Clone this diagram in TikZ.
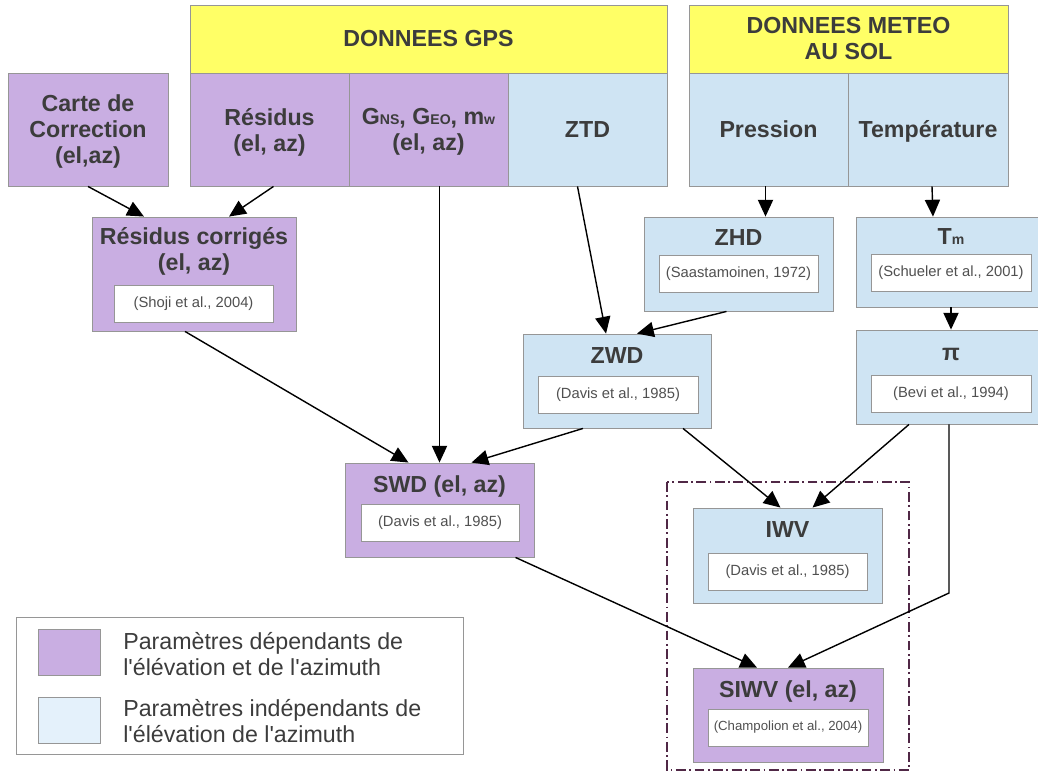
\documentclass[tikz,border=0pt]{standalone}
\usepackage{fontspec}
\setmainfont{Liberation Sans}
\definecolor{siwvPurple}{RGB}{201,174,226}
\definecolor{siwvBlue}{RGB}{207,228,243}
\definecolor{siwvPale}{RGB}{228,241,251}
\definecolor{siwvYellow}{RGB}{255,255,102}
\definecolor{siwvEdge}{RGB}{150,150,150}
\definecolor{siwvText}{RGB}{60,60,60}
\definecolor{siwvPlum}{RGB}{80,40,70}
\usetikzlibrary{arrows.meta,calc}
\newcommand{\lowidx}[1]{{\fontsize{10}{10}\selectfont #1}}

\begin{document}
\begin{tikzpicture}[x=0.025cm, y=-0.025cm,
  box/.style={draw=siwvEdge, line width=0.6pt, inner sep=0pt, align=center,
              text=siwvText, font=\fontsize{16.5}{18.5}\selectfont\bfseries},
  dep/.style={box, fill=siwvPurple},
  indep/.style={box, fill=siwvBlue},
  head/.style={box, fill=siwvYellow, minimum height=1.7cm},
  ttl/.style={text=siwvText, inner sep=0pt, align=center,
              font=\fontsize{16.5}{18.5}\selectfont\bfseries},
  ref/.style={draw=siwvEdge, line width=0.6pt, fill=white, inner sep=0pt,
              minimum width=3.975cm, minimum height=0.925cm,
              text=siwvText!90, font=\fontsize{10.5}{12}\selectfont},
  arr/.style={-{Triangle[length=4.2mm,width=3.8mm]}, line width=1pt},
  swatch/.style={draw=siwvEdge, line width=0.6pt, minimum width=1.55cm,
                 minimum height=1.15cm, inner sep=0pt},
  legtext/.style={anchor=west, align=left, inner sep=0pt, text=siwvText,
                  font=\fontsize{16.5}{18.5}\selectfont}
]
  \useasboundingbox (0,0) rectangle (1038,778);
  \clip (0,0) rectangle (1038,778);

  % data sources
  \node[head, minimum width=11.925cm] (gps)   at (428.5,39) {DONNEES GPS};
  \node[head, minimum width=7.975cm]  (meteo) at (848.5,39) {DONNEES METEO\\AU SOL};
  \node[dep, minimum width=4cm, minimum height=2.825cm, text depth=0pt]     (carte) at (88,129.5)    {Carte de\\Correction\\(el,az)};
  \node[dep, minimum width=3.975cm, minimum height=2.825cm, text depth=0pt] (res)   at (269.5,129.5) {Résidus\\(el, az)};
  \node[dep, minimum width=3.975cm, minimum height=2.825cm, text depth=0pt] (grad)  at (428.5,129.5) {G\lowidx{NS}, G\lowidx{EO}, m\lowidx{w}\\(el, az)};
  \node[indep, minimum width=3.975cm, minimum height=2.825cm, text height=12pt, text depth=0pt] (ztd)  at (587.5,129.5) {ZTD};
  \node[indep, minimum width=3.975cm, minimum height=2.825cm, text height=12pt, text depth=0pt] (pres) at (768.5,129.5) {Pression};
  \node[indep, minimum width=4cm, minimum height=2.825cm, text height=12pt, text depth=0pt]     (temp) at (928,129.5)   {Température};

  % derived quantities
  \node[dep, minimum width=5.1cm, minimum height=2.85cm] (rc) at (194,274) {};
  \node[ttl] (rct) at (194,251) {Résidus corrigés\\(el, az)};
  \node[ref] (rcref) at (193.5,303.5) {(Shoji et al., 2004)};

  \node[indep, minimum width=4.725cm, minimum height=2.35cm] (zhd) at (738.5,264) {};
  \node[ttl, anchor=base] (zhdt) at (738.5,245) {ZHD};
  \node[ref] (zhdref) at (738.5,273.5) {(Saastamoinen, 1972)};

  \node[indep, minimum width=4.75cm, minimum height=2.25cm] (tm) at (951,262) {};
  \node[ttl, anchor=base] (tmt) at (951,244) {T\lowidx{m}};
  \node[ref, minimum width=4cm] (tmref) at (951,273) {(Schueler et al., 2001)};

  \node[indep, minimum width=4.7cm, minimum height=2.35cm] (zwd) at (617,381) {};
  \node[ttl, anchor=base] (zwdt) at (617,363) {ZWD};
  \node[ref, minimum width=4cm] (zwdref) at (618,394.5) {(Davis et al., 1985)};

  \node[indep, minimum width=4.75cm, minimum height=2.35cm] (pi) at (951,377) {};
  \node[ttl, anchor=base] (pit) at (951,360) {π};
  \node[ref, minimum width=4cm] (piref) at (951,394) {(Bevi et al., 1994)};

  \node[dep, minimum width=4.725cm, minimum height=2.35cm] (swd) at (439.5,510) {};
  \node[ttl, anchor=base] (swdt) at (439.5,492) {SWD (el, az)};
  \node[ref, minimum width=3.95cm] (swdref) at (440,523) {(Davis et al., 1985)};

  \node[indep, minimum width=4.725cm, minimum height=2.375cm] (iwv) at (787.5,555.5) {};
  \node[ttl, anchor=base] (iwvt) at (787.5,537) {IWV};
  \node[ref] (iwvref) at (787.5,572) {(Davis et al., 1985)};

  \node[dep, minimum width=4.75cm, minimum height=2.35cm] (siwv) at (788,715) {};
  \node[ttl, anchor=base] (siwvt) at (788,697) {SIWV (el, az)};
  \node[ref, minimum width=4cm, font=\fontsize{9.4}{11}\selectfont] (siwvref) at (788,727.5) {(Champolion et al., 2004)};

  % dash-dotted frame round IWV and SIWV
  \draw[siwvPlum, line width=1.4pt, dash pattern=on 7pt off 2.5pt on 1.2pt off 2.5pt]
    (667,482) rectangle (909,770);

  % arrows
  \draw[arr] (carte.south) -- ($(rc.north)+(-50,0)$);
  \draw[arr] ($(res.south)+(4,0)$) -- ($(rc.north)+(35,0)$);
  \draw[arr] (grad.south -| swd.north) -- (swd.north);
  \draw[arr] ($(ztd.south)+(-10,0)$) -- ($(zwd.north)+(-11,0)$);
  \draw[arr] ($(pres.south)+(-3,0)$) -- ($(zhd.north)+(27,0)$);
  \draw[arr] ($(temp.south)+(4,0)$) -- ($(tm.north)+(-18,0)$);
  \draw[arr] (tm.south) -- (pi.north);
  \draw[arr] ($(zhd.south)+(-12,0)$) -- ($(zwd.north)+(20,0)$);
  \draw[arr] ($(rc.south)+(-9,0)$) -- ($(swd.north)+(-31,0)$);
  \draw[arr] ($(zwd.south)+(-34,0)$) -- ($(swd.north)+(32,0)$);
  \draw[arr] ($(zwd.south)+(66,0)$) -- ($(iwv.north)+(-7,0)$);
  \draw[arr] ($(pi.south)+(-42,0)$) -- ($(iwv.north)+(25,0)$);
  \coordinate (piknee) at (949,593);
  \draw[arr] (pi.south -| piknee) -- (piknee) -- (siwv.north);
  \draw[arr] ($(swd.south)+(76,0)$) -- ($(siwv.north)+(-31,0)$);

  % legend
  \draw[siwvEdge, line width=0.6pt] (16,617) rectangle (463,754);
  \node[swatch, fill=siwvPurple] (legdep) at (69,652) {};
  \node[swatch, fill=siwvPale]   (legind) at (69,720) {};
  \node[legtext] (legdept) at (123,654) {Paramètres dépendants de\\l\textquotesingle élévation et de l\textquotesingle azimuth};
  \node[legtext] (legindt) at (123,721) {Paramètres indépendants de\\l\textquotesingle élévation de l\textquotesingle azimuth};
\end{tikzpicture}
\end{document}
